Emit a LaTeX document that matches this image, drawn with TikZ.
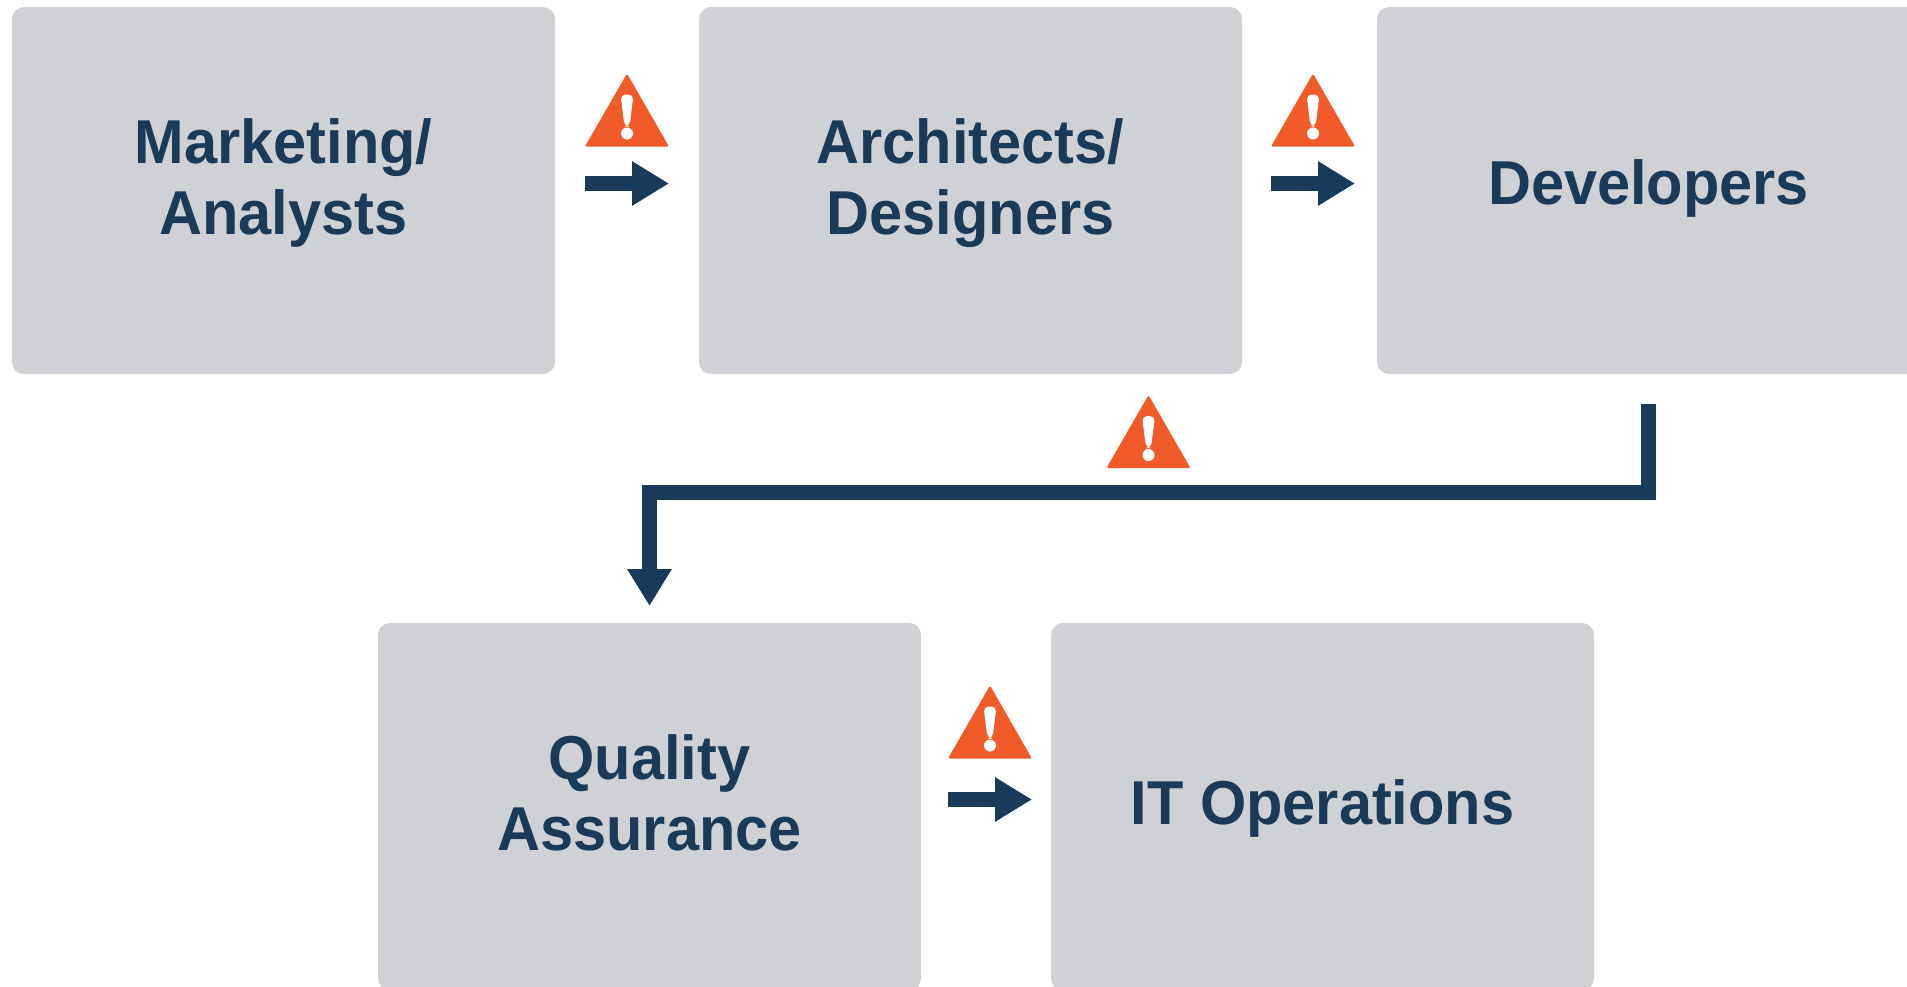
\documentclass[tikz,border=0pt]{standalone}
\usepackage{fontspec}
\setmainfont[FakeStretch=0.96]{Liberation Sans}
\usetikzlibrary{arrows.meta,positioning}
\definecolor{boxgrey}{HTML}{D0D1D4}
\definecolor{flownavy}{HTML}{1A3A5A}
\definecolor{warnorange}{HTML}{F15A29}
\tikzset{
  taskbox/.style={fill=boxgrey,rounded corners=12pt,minimum width=543pt,minimum height=367pt,
    outer sep=0pt,inner sep=0pt,align=center,text=flownavy,text depth=27pt,
    font=\fontsize{62}{71}\selectfont\bfseries},
  flowline/.style={draw=flownavy,line width=14.5pt,->,miter limit=10},
  warnsign/.pic={
    \fill[warnorange,rounded corners=1.5pt] (-42pt,0pt) -- (0pt,73pt) -- (42pt,0pt) -- cycle;
    \fill[white,rounded corners=5pt] (-6.5pt,52pt) -- (6.5pt,52pt) -- (2.5pt,20pt) -- (-2.5pt,20pt) -- cycle;
    \fill[white] (0pt,13pt) circle (6pt);
  }
}
\begin{document}
\begin{tikzpicture}[x=1pt,y=1pt,>={Triangle[length=37pt,width=42pt]}]
  \useasboundingbox (0,0) rectangle (1907,-986);
  \node[taskbox] (mkt) at (283.5,-190.5) {Marketing/\\Analysts};
  \node[taskbox] (arch) [right=144pt of mkt] {Architects/\\Designers};
  \node[taskbox,text depth=17pt] (dev) [right=135pt of arch] {Developers};
  \node[taskbox] (qa) [below right=249pt and -177pt of mkt] {Quality\\Assurance};
  \node[taskbox,text depth=8pt] (itops) [right=130pt of qa] {IT Operations};

  \draw[flowline,shorten <=30pt,shorten >=30pt] ([yshift=7pt]mkt.east) -- ([yshift=7pt]arch.west);
  \draw[flowline,shorten <=29pt,shorten >=22pt] ([yshift=7pt]arch.east) -- ([yshift=7pt]dev.west);
  \draw[flowline,shorten <=27pt,shorten >=19pt] ([yshift=7pt]qa.east) -- ([yshift=7pt]itops.west);
  \draw[flowline,shorten <=30pt,shorten >=17pt] (dev.south) -- ++(0,-118.5) -| (qa.north);

  \pic at ([xshift=72pt,yshift=44pt]mkt.east) {warnsign};
  \pic at ([xshift=71pt,yshift=44pt]arch.east) {warnsign};
  \pic at ([xshift=69pt,yshift=48pt]qa.east) {warnsign};
  \pic at (1148.5,-468) {warnsign};
\end{tikzpicture}
\end{document}
